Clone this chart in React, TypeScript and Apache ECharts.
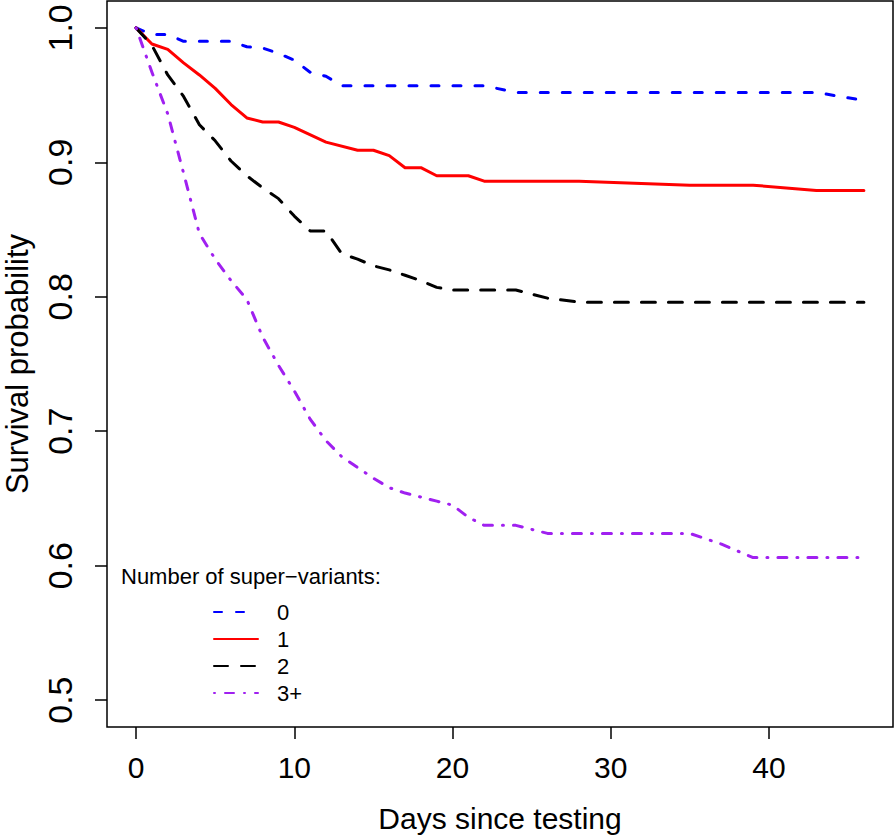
import React, { useEffect, useRef } from "react";
import * as echarts from "echarts";

const seriesNames = ["0", "1", "2", "3+"];
const xTicks = [0, 10, 20, 30, 40];
const yTicks = [0.5, 0.6, 0.7, 0.8, 0.9, 1.0];

const blue0: [number, number][] = [
  [0, 1.0], [1, 0.995], [2, 0.995], [3, 0.99], [6, 0.99], [7, 0.986], [8, 0.985],
  [9, 0.981], [10, 0.976], [11, 0.967], [12, 0.964], [13, 0.957], [22, 0.957],
  [24, 0.952], [43, 0.952], [45, 0.948], [46, 0.946],
];
const red1: [number, number][] = [
  [0, 1.0], [1, 0.988], [2, 0.984], [3, 0.974], [4, 0.965], [5, 0.955], [6, 0.943],
  [7, 0.933], [8, 0.93], [9, 0.93], [10, 0.926], [12, 0.915], [14, 0.909], [15, 0.909],
  [16, 0.905], [17, 0.896], [18, 0.896], [19, 0.89], [21, 0.89], [22, 0.886],
  [28, 0.886], [35, 0.883], [39, 0.883], [43, 0.879], [46, 0.879],
];
const black2: [number, number][] = [
  [0, 1.0], [1, 0.987], [2, 0.965], [3, 0.949], [4, 0.928], [5, 0.916], [6, 0.901],
  [7, 0.89], [8, 0.881], [9, 0.873], [10, 0.86], [11, 0.849], [12, 0.849], [13, 0.832],
  [14, 0.828], [15, 0.823], [16, 0.82], [17, 0.816], [18, 0.812], [19, 0.807],
  [20, 0.805], [24, 0.805], [26, 0.799], [28, 0.796], [46, 0.796],
];
const purple3: [number, number][] = [
  [0, 1.0], [1, 0.967], [2, 0.936], [3, 0.892], [4, 0.847], [5, 0.828], [6, 0.812],
  [7, 0.798], [8, 0.77], [9, 0.749], [10, 0.73], [11, 0.709], [12, 0.693], [13, 0.681],
  [14, 0.673], [15, 0.665], [16, 0.658], [17, 0.654], [18, 0.651], [19, 0.648],
  [20, 0.645], [21, 0.636], [22, 0.63], [24, 0.63], [26, 0.624], [35, 0.624],
  [36, 0.62], [37, 0.616], [38, 0.611], [39, 0.606], [46, 0.606],
];

const FONT = "'Liberation Sans', Arial, Helvetica, sans-serif";

export default function App() {
  const ref = useRef<HTMLDivElement>(null);
  useEffect(() => {
    if (!ref.current) return;
    const chart = echarts.init(ref.current, null, { renderer: "svg" });
    const mk = (name: string, data: [number, number][], color: string, type: any) => ({
      name,
      type: "line",
      data,
      symbol: "none",
      lineStyle: { color, width: 3, type, cap: "round", join: "round" },
      itemStyle: { color },
    });
    chart.setOption({
      animation: false,
      backgroundColor: "#fff",
      textStyle: { fontFamily: FONT },
      title: {
        text: "Number of super\u2212variants:",
        left: 121,
        top: 565,
        padding: 0,
        textStyle: { fontFamily: FONT, fontSize: 22, fontWeight: "normal", color: "#000" },
      },
      legend: {
        data: seriesNames,
        orient: "vertical",
        left: 213,
        top: 601,
        padding: 0,
        itemWidth: 44,
        itemHeight: 14,
        itemGap: 5,
        itemStyle: { opacity: 0, borderWidth: 0, color: "rgba(0,0,0,0)" },
        textStyle: { fontFamily: FONT, fontSize: 22, color: "#000", lineHeight: 22, padding: [0, 0, 0, 14] },
      },
      grid: {
        left: 107,
        top: 1,
        right: 2,
        bottom: 109,
        containLabel: false,
        outerBoundsMode: "none",
        show: true,
        borderColor: "#000",
        borderWidth: 1.5,
      },
      xAxis: {
        type: "value",
        min: -1.84,
        max: 47.84,
        name: "Days since testing",
        nameLocation: "middle",
        nameGap: 76,
        nameTextStyle: { fontFamily: FONT, fontSize: 30, color: "#000" },
        axisLine: { show: false, onZero: false },
        splitLine: { show: false },
        axisTick: { show: true, length: 12, customValues: xTicks, lineStyle: { color: "#000", width: 1.5 } },
        axisLabel: {
          customValues: xTicks,
          fontFamily: FONT,
          fontSize: 30,
          color: "#000",
          margin: 25,
          formatter: (v: number) => String(v),
        },
      },
      yAxis: {
        type: "value",
        min: 0.48,
        max: 1.02,
        name: "Survival probability",
        nameLocation: "middle",
        nameGap: 74,
        nameRotate: 90,
        nameTextStyle: { fontFamily: FONT, fontSize: 31, color: "#000" },
        axisLine: { show: false, onZero: false },
        splitLine: { show: false },
        axisTick: { show: true, length: 12, customValues: yTicks, lineStyle: { color: "#000", width: 1.5 } },
        axisLabel: {
          customValues: yTicks,
          rotate: 90,
          fontFamily: FONT,
          fontSize: 34,
          color: "#000",
          margin: 30,
          formatter: (v: number) => v.toFixed(1),
        },
      },
      series: [
        mk(seriesNames[0], blue0, "#0000FF", [8, 14]),
        mk(seriesNames[1], red1, "#FF0000", "solid"),
        mk(seriesNames[2], black2, "#000000", [14, 13]),
        mk(seriesNames[3], purple3, "#A020F0", [1, 10, 9, 10]),
      ],
    });
    return () => chart.dispose();
  }, []);
  return (
    <div
      ref={ref}
      style={{ position: "absolute", left: 0, top: 0, width: 895, height: 836 }}
    />
  );
}
